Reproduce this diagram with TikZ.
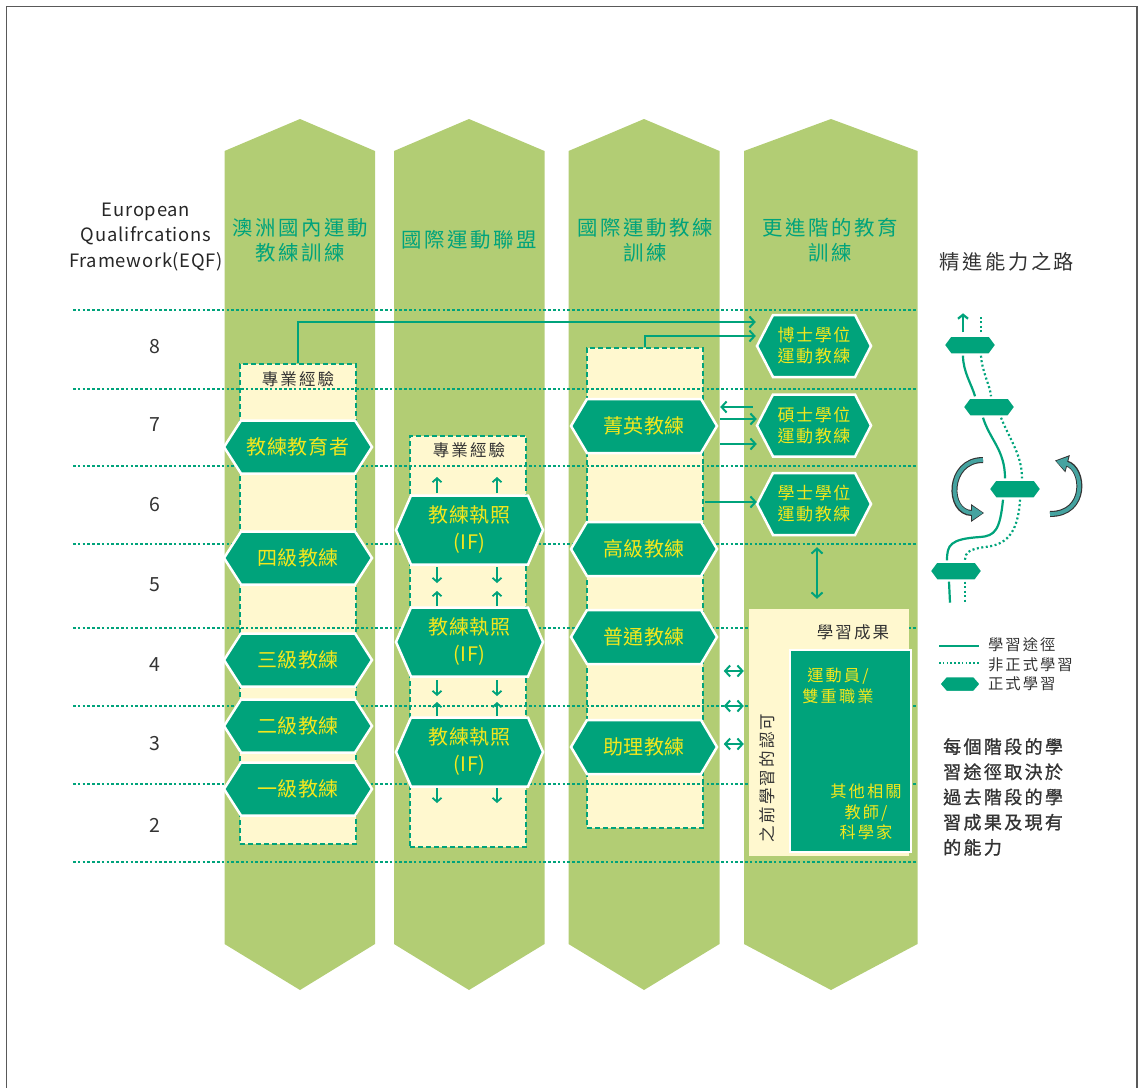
\documentclass[tikz,border=0pt]{standalone}
\usepackage{fontspec}
\setmainfont{Noto Sans CJK TC}
\newfontfamily\lsA[LetterSpace=3]{Noto Sans CJK TC}
\newfontfamily\lsB[LetterSpace=9]{Noto Sans CJK TC}
\newfontfamily\lsC[LetterSpace=13]{Noto Sans CJK TC}
\newfontfamily\lsD[LetterSpace=4]{Noto Sans CJK TC}
\newfontfamily\lsE[LetterSpace=13,FakeBold=1.2]{Noto Sans CJK TC}
\usetikzlibrary{arrows.meta,calc}
\definecolor{colgreen}{HTML}{B2CD74}
\definecolor{tealg}{HTML}{00A37B}
\definecolor{lyellow}{HTML}{FFF8CF}
\definecolor{ytext}{HTML}{F4E71C}
\definecolor{dgray}{HTML}{333333}
\definecolor{arcteal}{HTML}{45A3A0}
% #1 node options, #2 name, #3 cx, #4 cy, #5 w, #6 h, #7 inset, #8 text
\newcommand\hexnode[8][]{%
  \filldraw[hexshape] (#3-#5/2,#4) -- (#3-#5/2+#7,#4-#6/2) -- (#3+#5/2-#7,#4-#6/2) -- (#3+#5/2,#4)
     -- (#3+#5/2-#7,#4+#6/2) -- (#3-#5/2+#7,#4+#6/2) -- cycle;
  \node[hextext,#1,minimum width=#5pt,minimum height=#6pt] (#2) at (#3,#4) {#8};}
% #1 left x, #2 right x, #3 tip x
\newcommand\greencol[3]{%
  \fill[colgreen] (#1,151) -- (#3,119) -- (#2,151) -- (#2,944) -- (#3,990) -- (#1,944) -- cycle;}
\begin{document}
\begin{tikzpicture}[x=1pt,y=-1pt,
  hd/.style={font={\lsC\fontsize{20.4pt}{25pt}\selectfont},text=tealg,align=center,inner sep=0pt},
  darklbl/.style={font={\lsC\fontsize{16.5pt}{20pt}\selectfont},text=dgray,align=center,inner sep=0pt},
  ylbl/.style={font={\lsC\fontsize{16.2pt}{20.5pt}\selectfont},text=ytext,align=center,inner sep=0pt},
  numlbl/.style={font={\lsD\fontsize{19.5pt}{22pt}\selectfont},text=dgray,inner sep=0pt},
  ybox/.style={fill=lyellow,draw=tealg,line width=1.5pt,dash pattern=on 5pt off 3pt,inner sep=0pt},
  dotline/.style={draw=tealg,line width=2pt,dash pattern=on 2.5pt off 2.3pt},
  hexshape/.style={fill=tealg,draw=white,line width=2.5pt,line join=miter},
  hextext/.style={inner sep=0pt,text=ytext,align=center,font={\lsA\fontsize{20pt}{27pt}\selectfont}},
  hexsmall/.style={font={\lsB\fontsize{17pt}{21pt}\selectfont}},
  conn/.style={draw=tealg,line width=2pt,-{Straight Barb[length=5pt,width=11pt]}},
  dconn/.style={draw=tealg,line width=2pt,{Straight Barb[length=5pt,width=11pt]}-{Straight Barb[length=5pt,width=11pt]}},
  tiny/.style={draw=tealg,line width=1.8pt,-{Straight Barb[length=4pt,width=9pt]}},
  pathsolid/.style={draw=tealg,line width=2.2pt},
  pathdot/.style={draw=tealg,line width=2.2pt,dash pattern=on 2pt off 2.5pt},
  legtxt/.style={font={\lsC\fontsize{15.3pt}{18pt}\selectfont},text=dgray,anchor=west,inner sep=0pt}
]
\useasboundingbox (0,0) rectangle (1142,1087);
\draw[draw=black!65,line width=1.2pt] (6.5,1095) -- (6.5,6.5) -- (1137,6.5) -- (1137,1095);

% columns
\greencol{224.5}{375}{300}
\greencol{394}{544.5}{469}
\greencol{568.5}{719.5}{644}
\greencol{744}{917.5}{831}

% headings
\node[hd] (h1) at (300,240) {澳洲國內運動\\教練訓練};
\node[hd] (h2) at (469,240) {國際運動聯盟};
\node[hd] (h3) at (645,240) {國際運動教練\\訓練};
\node[hd] (h4) at (830,240) {更進階的教育\\訓練};
\node[font={\lsC\fontsize{20.2pt}{25pt}\selectfont},text=dgray,inner sep=0pt] (ttl) at (1007,262) {精進能力之路};
\node[font={\lsD\fontsize{18.4pt}{25.5pt}\selectfont},text=black!85,align=center,inner sep=0pt] (eqf) at (146,237) {European\\Qualifrcations\\Framework(EQF)};

% yellow dashed boxes
\node[ybox,minimum width=116pt,minimum height=480pt] (box1) at (298,604) {};
\node[ybox,minimum width=116pt,minimum height=411pt] (box2) at (468,641.5) {};
\node[ybox,minimum width=116pt,minimum height=480pt] (box3) at (645,588) {};
\node[darklbl] (pe1) at (298,379) {專業經驗};
\node[darklbl] (pe2) at (469,450) {專業經驗};

% EQF dotted lines
\foreach \yy in {309.5,389,466,543.5,627.5,705.5,784,862}
  \draw[dotline] (73,\yy) -- (917.5,\yy);

% EQF levels
\node[numlbl] (l8) at (154.5,346.5) {8};
\node[numlbl] (l7) at (154.5,425) {7};
\node[numlbl] (l6) at (154.5,505) {6};
\node[numlbl] (l5) at (154.5,585) {5};
\node[numlbl] (l4) at (154.5,665) {4};
\node[numlbl] (l3) at (154.5,744) {3};
\node[numlbl] (l2) at (154.5,825) {2};

% column 1 hexes
\hexnode{ce}{298}{447}{148}{53}{17}{教練教育者}
\hexnode{c4}{298}{558}{148}{53}{17}{四級教練}
\hexnode{c3}{298}{660}{148}{53}{17}{三級教練}
\hexnode{c2}{298}{726}{148}{53}{17}{二級教練}
\hexnode{c1}{298}{789}{148}{53}{17}{一級教練}

% column 2 hexes
\hexnode{if1}{469.5}{530}{147}{69}{15}{教練執照\\(IF)}
\hexnode{if2}{469.5}{642}{147}{69}{15}{教練執照\\(IF)}
\hexnode{if3}{469.5}{752}{147}{69}{15}{教練執照\\(IF)}
\foreach \xx in {437,497}{
  \draw[tiny] (\xx,493) -- (\xx,477);
  \draw[tiny] (\xx,567) -- (\xx,583);
  \draw[tiny] (\xx,606) -- (\xx,591);
  \draw[tiny] (\xx,680) -- (\xx,696);
  \draw[tiny] (\xx,716) -- (\xx,702);
  \draw[tiny] (\xx,788) -- (\xx,803);
}

% column 3 hexes
\hexnode{elite}{644}{426}{146}{54}{16}{菁英教練}
\hexnode{senior}{644}{549}{146}{54}{16}{高級教練}
\hexnode{general}{644}{637}{146}{54}{16}{普通教練}
\hexnode{assist}{644}{747}{146}{54}{16}{助理教練}

% column 4 hexes
\hexnode[hexsmall]{phd}{814}{346}{114}{62}{16}{博士學位\\運動教練}
\hexnode[hexsmall]{ms}{814}{425.5}{114}{62}{16}{碩士學位\\運動教練}
\hexnode[hexsmall]{bs}{814}{504}{114}{62}{16}{學士學位\\運動教練}

% learning outcomes
\node[fill=lyellow,minimum width=160pt,minimum height=247pt,inner sep=0pt] (lo) at (829,732.5) {};
\node[fill=tealg,draw=white,line width=2.5pt,minimum width=121pt,minimum height=202pt,inner sep=0pt] (loin) at (850.5,751) {};
\node[darklbl] (lot) at (853,632) {學習成果};
\node[ylbl] (ath) at (838,686) {運動員/\\雙重職業};
\node[ylbl] (oth) at (866,812) {其他相關\\教師/\\科學家};
\node[darklbl,rotate=90] (prior) at (767,778) {之前學習的認可};

% connectors
\draw[conn] (box1.north) |- ($(phd.west)+(-1,-24)$);
\draw[conn] (box3.north) |- ($(phd.west)+(-1,-10)$);
\draw[conn] ($(ms.west)+(-4,-18.5)$) -- ($(elite.east)+(3,-19)$);
\draw[conn] ($(elite.east)+(3,-7)$) -- ($(ms.west)+(0,-6.5)$);
\draw[conn] ($(elite.east)+(3,18)$) -- ($(ms.west)+(0,18.5)$);
\draw[conn] ($(box3.east)+(1,-86)$) -- ($(bs.west)+(0,-2)$);
\draw[dconn] ($(bs.south)+(3,12)$) -- ($(lo.north)+(-12,-10)$);
\draw[dconn] ($(box3.east)+(20,83)$) -- ($(lo.west)+(-5,-61.5)$);
\draw[dconn] ($(box3.east)+(20,118)$) -- ($(lo.west)+(-5,-26.5)$);
\draw[dconn] ($(box3.east)+(20,156)$) -- ($(lo.west)+(-5,11.5)$);

% path icon
\hexnode{ph1}{970}{345}{53}{19}{7}{}
\hexnode{ph2}{989}{407}{53}{19}{7}{}
\hexnode{ph3}{1015}{489}{53}{19}{7}{}
\hexnode{ph4}{956}{571}{53}{19}{7}{}
\draw[draw=tealg,line width=2.2pt,-{Straight Barb[length=4pt,width=10pt]}] ($(ph1.north)+(-7,-3)$) -- ($(ph1.north)+(-7,-22)$);
\draw[pathdot] ($(ph1.north)+(11,-3)$) -- ($(ph1.north)+(11,-20)$);
\draw[pathsolid] ($(ph1.south)+(-7,1)$) .. controls (963,372) and (972,385) .. ($(ph2.north)+(-14,-1)$);
\draw[pathdot] ($(ph1.south)+(11,1)$) .. controls (982,372) and (990,385) .. ($(ph2.north)+(2,-1)$);
\draw[pathsolid] ($(ph2.south)+(-6,1)$) .. controls (990,440) and (1005,450) .. ($(ph3.north)+(-10,-1)$);
\draw[pathdot] ($(ph2.south)+(12,1)$) .. controls (1010,440) and (1022,455) .. ($(ph3.north)+(7,-1)$);
\draw[pathsolid] ($(ph3.south)+(-12,1)$) .. controls (1000,530) and (995,536) .. (980,537) .. controls (950,539) and (947,545) .. ($(ph4.north)+(-9,-1)$);
\draw[pathdot] ($(ph3.south)+(5,1)$) .. controls (1018,535) and (1005,545) .. (985,547) .. controls (970,549) and (965,552) .. ($(ph4.north)+(9,-1)$);
\draw[pathsolid] ($(ph4.south)+(-7,1)$) -- ($(ph4.south)+(-6,22)$);
\draw[pathdot] ($(ph4.south)+(9,1)$) -- ($(ph4.south)+(9,22)$);
% circular arrows
\draw[line width=6pt,draw=black!80,-{Triangle[length=13pt,width=17pt]}] (983,460) .. controls (947,460) and (947,513) .. (984,513);
\draw[line width=3.8pt,draw=arcteal,-{Triangle[length=11pt,width=13.5pt]}] (983,460) .. controls (947,460) and (947,513) .. (983,513);
\draw[line width=6pt,draw=black!80,-{Triangle[length=13pt,width=17pt]}] (1050,514) .. controls (1088,514) and (1084,468) .. (1055,460.5);
\draw[line width=3.8pt,draw=arcteal,-{Triangle[length=11pt,width=13.5pt]}] (1050,514) .. controls (1088,514) and (1084,468) .. (1056,461);

% legend
\coordinate (lg1a) at (939,646);
\coordinate (lg1b) at (979,646);
\coordinate (lg2a) at (939,663);
\coordinate (lg2b) at (979,663);
\draw[pathsolid,line width=2pt] (lg1a) -- (lg1b);
\draw[pathdot,line width=2pt,dash pattern=on 1.6pt off 2.2pt] (lg2a) -- (lg2b);
\hexnode{lghex}{960}{684}{42}{16}{7}{}
\node[legtxt] (lt1) at (988,645) {學習途徑};
\node[legtxt] (lt2) at (988,664.5) {非正式學習};
\node[legtxt] (lt3) at (988,684) {正式學習};

% note
\node[font={\lsE\fontsize{18pt}{25.2pt}\selectfont},text=dgray,align=left,anchor=north west,inner sep=0pt] (note) at (943,738) {每個階段的學\\習途徑取決於\\過去階段的學\\習成果及現有\\的能力};
\end{tikzpicture}
\end{document}
